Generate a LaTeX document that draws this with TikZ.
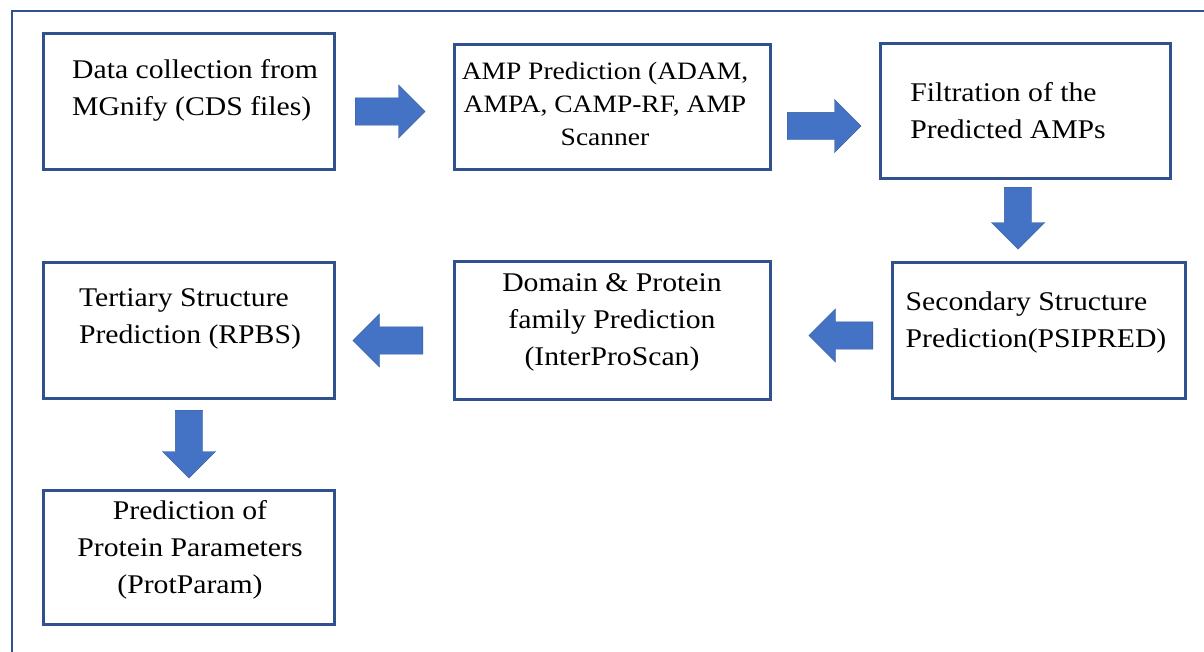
\documentclass[tikz,border=0pt]{standalone}
\usepackage{fontspec}
\setmainfont[FakeStretch=1.1]{Liberation Serif}
\usepackage{tikz}
\usetikzlibrary{shapes.arrows, positioning}
\definecolor{boxblue}{HTML}{2F528F}
\definecolor{arrowblue}{HTML}{4472C4}

\begin{document}
\begin{tikzpicture}[x=1pt, y=-1pt,
    box/.style={rectangle, draw=boxblue, line width=3pt, fill=white, inner sep=0pt},
    txt/.style={font=\fontsize{27}{37}\selectfont, inner sep=0pt},
    blockarrow/.style={single arrow, draw=arrowblue!80!black, line width=0.4pt, fill=arrowblue,
        inner sep=13.5pt, text height=0pt, text depth=0pt, text width=0pt, anchor=tail,
        single arrow head extend=13pt, single arrow tip angle=90}]

    \useasboundingbox (0,0) rectangle (1204,651);
    \clip (0,0) rectangle (1204,651);
    % outer frame
    \draw[boxblue, line width=2.5pt] (12,700) -- (12,11) -- (1260,11);

    \node [box, minimum width=291pt, minimum height=136pt] (b1) at (188.5,101) {};
    \node [box, minimum width=316pt, minimum height=125pt] (b2) at (612,106.5) {};
    \node [box, minimum width=290pt, minimum height=135pt] (b3) at (1025,111) {};
    \node [box, minimum width=293pt, minimum height=136pt] (b4) at (1038.5,330) {};
    \node [box, minimum width=316pt, minimum height=138pt] (b5) at (612,330) {};
    \node [box, minimum width=291pt, minimum height=136pt] (b6) at (188.5,330) {};
    \node [box, minimum width=291pt, minimum height=134pt] (b7) at (188.5,557) {};

    \node [txt, align=left] (t1) at (195,90) {Data collection from\\MGnify (CDS files)};
    \node [txt, align=center, font=\fontsize{25}{33}\selectfont] (t2) at (605,104) {AMP Prediction (ADAM,\\AMPA, CAMP-RF, AMP\\Scanner};
    \node [txt, align=left] (t3) at (1008,111) {Filtration of the\\Predicted AMPs};
    \node [txt, align=left] (t4) at (1036,323) {Secondary Structure\\Prediction(PSIPRED)};
    \node [txt, align=center] (t5) at (612,322) {Domain \& Protein\\family Prediction\\(InterProScan)};
    \node [txt, align=left] (t6) at (190,319) {Tertiary Structure\\Prediction (RPBS)};
    \node [txt, align=center] (t7) at (190,550) {Prediction of\\Protein Parameters\\(ProtParam)};

    % block arrows between the steps
    \node [blockarrow, minimum height=70pt] (a1) at (355,111.5) {};
    \node [blockarrow, minimum height=74pt] (a2) at (787,126) {};
    \node [blockarrow, shape border rotate=270, minimum height=62pt] (a3) at (1018,187) {};
    \node [blockarrow, shape border rotate=180, minimum height=64pt] (a4) at (873,335.5) {};
    \node [blockarrow, shape border rotate=180, minimum height=70pt] (a5) at (423,340.5) {};
    \node [blockarrow, shape border rotate=270, minimum height=68pt] (a6) at (189,410) {};
\end{tikzpicture}
\end{document}
